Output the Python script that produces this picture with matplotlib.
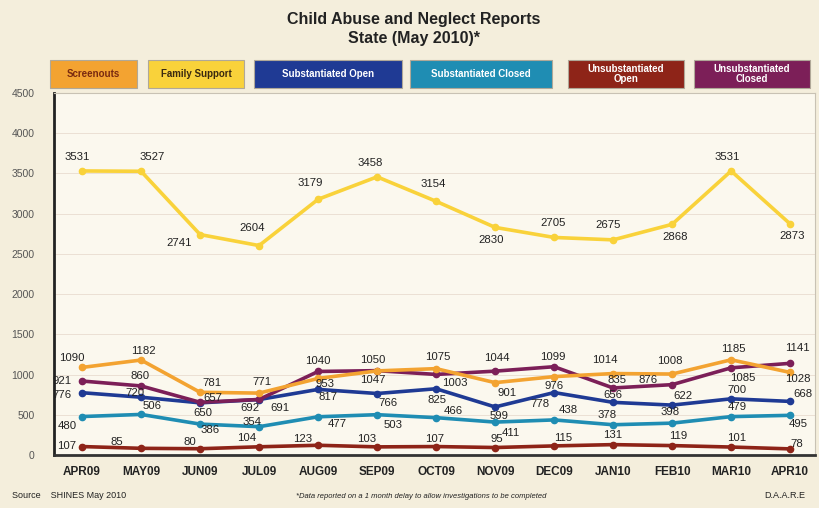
import matplotlib
matplotlib.use("Agg")
import matplotlib.pyplot as plt
from matplotlib.patches import Rectangle

plt.rcParams['font.family'] = ['Liberation Sans', 'DejaVu Sans']

months = ["APR09", "MAY09", "JUN09", "JUL09", "AUG09", "SEP09", "OCT09",
          "NOV09", "DEC09", "JAN10", "FEB10", "MAR10", "APR10"]

screenouts = [1090, 1182, 781, 771, 953, 1047, 1075, 901, 976, 1014, 1008, 1185, 1028]
family_support = [3531, 3527, 2741, 2604, 3179, 3458, 3154, 2830, 2705, 2675, 2868, 3531, 2873]
subst_open = [776, 720, 650, 691, 817, 766, 825, 599, 778, 656, 622, 700, 668]
subst_closed = [480, 506, 386, 354, 477, 503, 466, 411, 438, 378, 398, 479, 495]
unsub_open = [107, 85, 80, 104, 123, 103, 107, 95, 115, 131, 119, 101, 78]
unsub_closed = [921, 860, 657, 692, 1040, 1050, 1003, 1044, 1099, 835, 876, 1085, 1141]

yticks = [0, 500, 1000, 1500, 2000, 2500, 3000, 3500, 4000, 4500]

# label offsets in pixels (dx, dy up)
off_screen = [(-10, 9), (2, 9), (12, 9), (3, 11), (7, -6), (-4, -9), (2, 12),
              (12, -10), (0, -9), (-8, 14), (-2, 13), (2, 11), (8, -7)]
off_family = [(-5, 14), (11, 14), (-21, -8), (-7, 18), (-8, 16), (-7, 14), (-3, 17),
              (-4, -13), (-1, 14), (-5, 15), (3, -13), (-4, 14), (2, -12)]
off_sopen = [(-20, -2), (-6, 4), (3, -10), (21, -8), (10, -8), (11, -9), (1, -11),
             (4, -9), (-14, -11), (0, 7), (11, 9), (6, 9), (13, 7)]
off_sclosed = [(-15, -9), (11, 8), (10, -6), (-7, 5), (19, -7), (16, -10), (17, 7),
               (16, -11), (14, 10), (-6, 10), (-2, 11), (6, 10), (8, -9)]
off_uopen = [(-15, 1), (-24, 6), (-10, 7), (-12, 9), (-15, 6), (-10, 8), (-1, 8),
             (2, 9), (9, 8), (0, 10), (6, 10), (6, 9), (7, 5)]
off_uclosed = [(-20, 0), (-1, 10), (13, 4), (-9, -9), (0, 10), (-4, 11), (19, -9),
               (2, 13), (-1, 10), (4, 8), (-24, 5), (12, -10), (7, 15)]

series = [
    ("Unsubstantiated\nOpen", unsub_open, "#8e2418", off_uopen, "white"),
    ("Substantiated Closed", subst_closed, "#1f8db3", off_sclosed, "white"),
    ("Substantiated Open", subst_open, "#1f3a94", off_sopen, "white"),
    ("Unsubstantiated\nClosed", unsub_closed, "#7c1f58", off_uclosed, "white"),
    ("Screenouts", screenouts, "#f3a331", off_screen, "#7a2a10"),
    ("Family Support", family_support, "#f9d23a", off_family, "#3a2a10"),
]

fig = plt.figure(figsize=(8.19, 5.08), dpi=100)
fig.patch.set_facecolor("#f4eedc")
ax = fig.add_axes([0.066, 0.104, 0.929, 0.713])
ax.set_facecolor("#fbf8ee")

x = list(range(len(months)))
for name, vals, col, offs, tc in series:
    ax.plot(x, vals, color=col, lw=2.6, marker="o", ms=4.5, solid_joinstyle="round")
    for xi, v, (dx, dy) in zip(x, vals, offs):
        ax.annotate(str(v), (xi, v), xytext=(dx, dy), textcoords="offset pixels",
                    ha="center", va="center", fontsize=8.2, color="#222222")

ax.set_xlim(-0.475, 12.42)
ax.set_ylim(0, 4500)
ax.set_yticks(yticks)
ax.set_yticklabels([str(t) for t in yticks], fontsize=7.5, color="#555555")
ax.set_xticks(x)
ax.set_xticklabels(months, fontsize=8.5, fontweight="bold", color="#222222")
ax.tick_params(axis="y", length=0, pad=14)
ax.tick_params(axis="x", length=0, pad=8)
ax.yaxis.grid(True, color="#e8dcd0", lw=0.6)
ax.set_axisbelow(True)
for s in ["top", "right"]:
    ax.spines[s].set_color("#c8c2b4")
    ax.spines[s].set_linewidth(0.8)
ax.spines["left"].set_linewidth(2)
ax.spines["bottom"].set_linewidth(2)
ax.spines["left"].set_color("#222222")
ax.spines["bottom"].set_color("#333333")

fig.text(0.505, 0.962, "Child Abuse and Neglect Reports", ha="center", va="center",
         fontsize=11.5, fontweight="bold", color="#222222")
fig.text(0.505, 0.925, "State (May 2010)*", ha="center", va="center",
         fontsize=11.5, fontweight="bold", color="#222222")

# legend boxes along the top
legend_order = ["Screenouts", "Family Support", "Substantiated Open",
                "Substantiated Closed", "Unsubstantiated\nOpen", "Unsubstantiated\nClosed"]
box_x = [(50, 137), (148, 244), (254, 402), (410, 552), (568, 684), (694, 810)]
lookup = {s[0]: s for s in series}
for name, (x0, x1) in zip(legend_order, box_x):
    _, _, col, _, tc = lookup[name]
    y0, y1 = 60, 88
    fig.patches.append(Rectangle((x0 / 819, 1 - y1 / 508), (x1 - x0) / 819, (y1 - y0) / 508,
                                 transform=fig.transFigure, facecolor=col,
                                 edgecolor="#b0a898", lw=0.8))
    fig.text((x0 + x1) / 2 / 819, 1 - (y0 + y1) / 2 / 508, name, ha="center", va="center",
             fontsize=7, fontweight="bold", color=tc, linespacing=0.95)

fig.text(12 / 819, 1 - 496 / 508, "Source    SHINES May 2010", ha="left", va="center",
         fontsize=6.5, color="#222222")
fig.text(421 / 819, 1 - 496 / 508,
         "*Data reported on a 1 month delay to allow investigations to be completed",
         ha="center", va="center", fontsize=5.5, style="italic", color="#222222")
fig.text(805 / 819, 1 - 496 / 508, "D.A.A.R.E", ha="right", va="center",
         fontsize=6.5, color="#222222")

fig.savefig("out.png", dpi=100, facecolor=fig.get_facecolor())
